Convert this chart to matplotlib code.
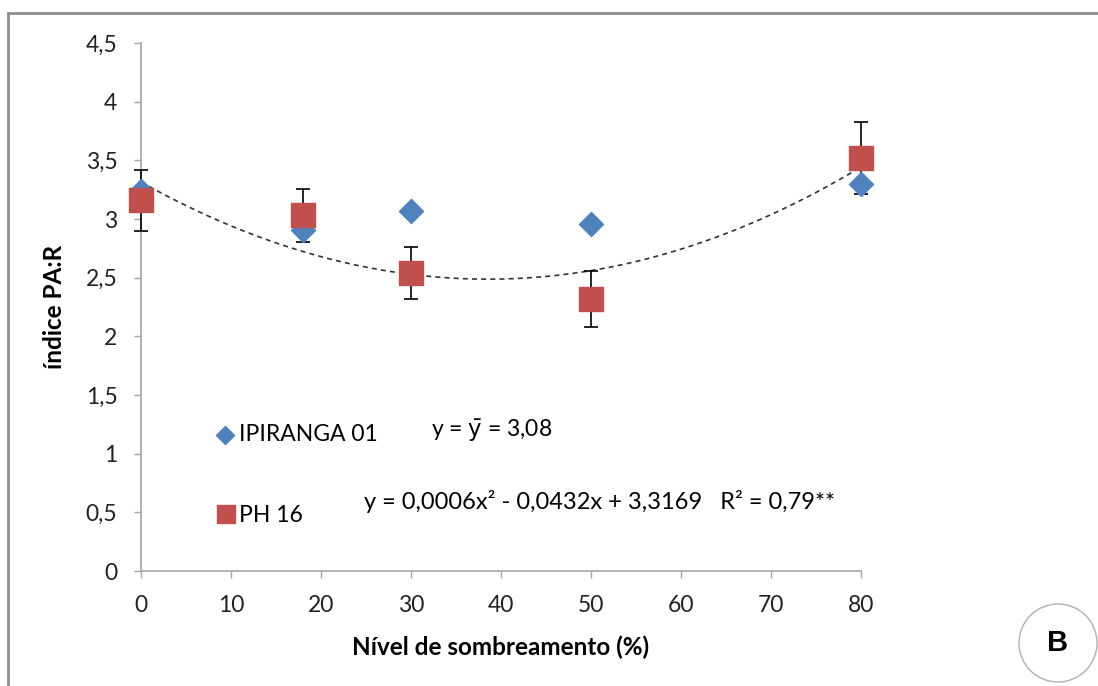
#!/usr/bin/env python3
"""PA:R index vs shading level for two cultivars."""

import numpy as np
import matplotlib.pyplot as plt
from matplotlib.patches import Ellipse, Rectangle

plt.rcParams["font.family"] = ["Lato", "DejaVu Sans"]

# --- data ---
shade = [0, 18, 30, 50, 80]
ipiranga = [3.24, 2.91, 3.07, 2.96, 3.30]
ph16 = [3.16, 3.03, 2.54, 2.32, 3.52]
ph16_err = [0.26, 0.23, 0.22, 0.24, 0.31]

x_ticks = [0, 10, 20, 30, 40, 50, 60, 70, 80]
y_ticks = [0, 0.5, 1, 1.5, 2, 2.5, 3, 3.5, 4, 4.5]
y_ticklabels = ["0", "0,5", "1", "1,5", "2", "2,5", "3", "3,5", "4", "4,5"]

BLUE = "#4F81BD"
RED = "#C0504D"
GRAY = "#A6A6A6"
FS = 16.5


def main():
    fig = plt.figure(figsize=(10.98, 6.86), dpi=100)
    ax = fig.add_axes([0.1284, 0.1676, 0.6558, 0.7697])

    # outer frame (only top/left edges show in the source)
    fig.add_artist(Rectangle((8 / 1098, -0.05), 1.2, 1 - 13 / 686 + 0.05,
                             transform=fig.transFigure, fill=False,
                             edgecolor="#8C8C8C", linewidth=2))

    # trend line for PH 16
    coef = np.polyfit(shade, ph16, 2)
    xs = np.linspace(0, 80, 200)
    ax.plot(xs, np.polyval(coef, xs), color="#333333", linestyle=(0, (3, 2.5)),
            linewidth=1.2, zorder=2, clip_on=False)

    ax.errorbar(shade, ph16, yerr=ph16_err, fmt="none", ecolor="black",
                elinewidth=1.2, capsize=5, capthick=1.2, zorder=3,
                clip_on=False)
    ax.scatter(shade, ipiranga, marker="D", s=150, color=BLUE, zorder=4,
               clip_on=False)
    ax.scatter(shade, ph16, marker="s", s=280, color=RED, zorder=5,
               clip_on=False)

    ax.set_xlim(0, 80)
    ax.set_ylim(0, 4.5)
    ax.set_xticks(x_ticks)
    ax.set_yticks(y_ticks)
    ax.set_yticklabels(y_ticklabels)
    ax.tick_params(labelsize=FS, colors=GRAY, labelcolor="#222222",
                   length=5, width=1)
    ax.tick_params(axis="x", pad=12)
    ax.tick_params(axis="y", pad=12)
    for side in ("top", "right"):
        ax.spines[side].set_visible(False)
    for side in ("left", "bottom"):
        ax.spines[side].set_color(GRAY)
        ax.spines[side].set_linewidth(1.2)

    ax.set_xlabel("Nível de sombreamento (%)", fontsize=17.5,
                  fontweight="bold", labelpad=14)
    ax.set_ylabel("índice PA:R", fontsize=17.5, fontweight="bold",
                  labelpad=14)

    # legend drawn by hand, as in the source
    ax.scatter([9.3], [1.16], marker="D", s=85, color=BLUE, clip_on=False)
    ax.text(10.9, 1.16, "IPIRANGA 01", fontsize=FS, va="center")
    ax.scatter([9.5], [0.49], marker="s", s=170, color=RED, clip_on=False)
    ax.text(10.9, 0.47, "PH 16", fontsize=FS, va="center")
    ax.text(32.2, 1.2, r"y = $\bar{\mathrm{y}}$ = 3,08", fontsize=FS,
            va="center")
    ax.text(24.8, 0.59, "y = 0,0006x² - 0,0432x + 3,3169   R² = 0,79**",
            fontsize=17, va="center")

    # panel letter
    fig.add_artist(Ellipse((1058 / 1098, 1 - 643 / 686), 78 / 1098, 78 / 686,
                           transform=fig.transFigure, fill=False,
                           edgecolor="#B0B0B0", linewidth=1))
    fig.text(1058 / 1098, 1 - 643 / 686, "B", fontsize=21, fontweight="bold",
             family="Liberation Sans", ha="center", va="center")

    fig.savefig("out.png", dpi=100)


if __name__ == "__main__":
    main()
